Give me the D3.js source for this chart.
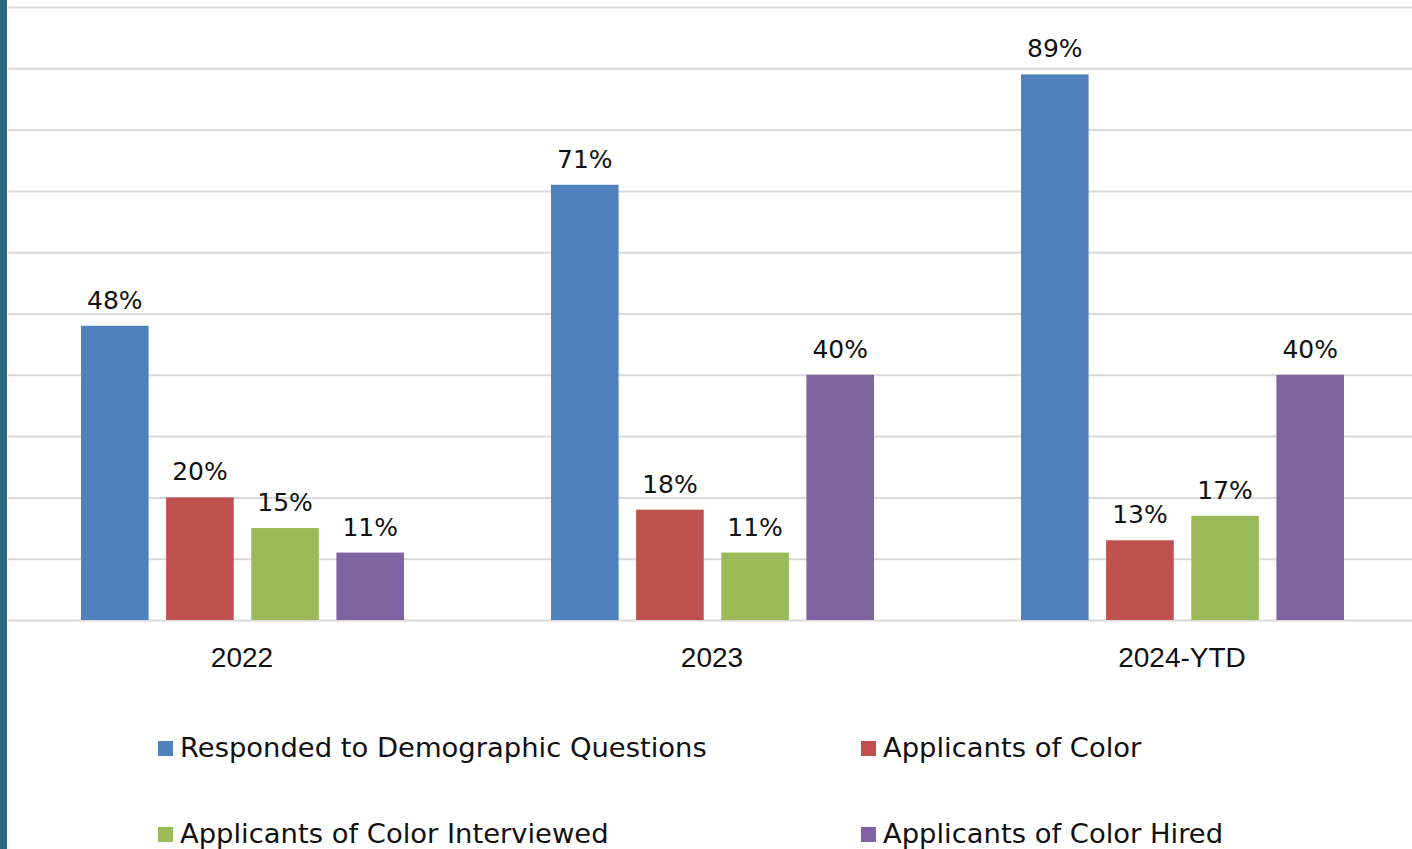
<!DOCTYPE html>
<html>
<head>
<meta charset="utf-8">
<script src="https://cdn.jsdelivr.net/npm/d3@7"></script>
<style>
  html, body { margin: 0; padding: 0; background: #fff; }
  svg { display: block; }
</style>
</head>
<body>
<svg id="chart" width="1412" height="849"></svg>
<script>
const categories = ["2022", "2023", "2024-YTD"];
const seriesNames = [
  "Responded to Demographic Questions",
  "Applicants of Color",
  "Applicants of Color Interviewed",
  "Applicants of Color Hired"
];
const responded  = [0.48, 0.71, 0.89];
const applicants = [0.20, 0.18, 0.13];
const interviewed = [0.15, 0.11, 0.17];
const hired      = [0.11, 0.40, 0.40];
const yTicks = [0, 0.1, 0.2, 0.3, 0.4, 0.5, 0.6, 0.7, 0.8, 0.9, 1.0];
const colors = ["#4F81BD", "#C0504D", "#9BBB59", "#8064A2"];

const seriesValues = [responded, applicants, interviewed, hired];

const svg = d3.select("#chart");
const W = 1412, H = 849;

const labelFont = "'DejaVu Sans', sans-serif";
const axisFont = "'Liberation Sans', Arial, sans-serif";

// left accent bar
svg.append("rect").attr("x", 0).attr("y", 0).attr("width", 7).attr("height", H).attr("fill", "#2A6A82");

const y = d3.scaleLinear().domain([0, 1]).range([620, 7]);
const x0 = d3.scaleBand().domain(categories).range([7, 1417]).paddingInner(0).paddingOuter(0);
const x1 = d3.scaleBand().domain(seriesNames).range([74, 397]).paddingInner(0.206).paddingOuter(0);

// gridlines
const grid = svg.append("g").attr("transform", "translate(8,0)")
  .call(d3.axisLeft(y).tickValues(yTicks).tickSize(-1410).tickFormat(""));
grid.select(".domain").remove();
grid.selectAll(".tick line").attr("stroke", "#D9D9D9").attr("stroke-width", 2);

// bars
const groups = svg.append("g").selectAll("g")
  .data(categories)
  .join("g")
  .attr("transform", d => `translate(${x0(d)},0)`);

groups.each(function(cat, ci) {
  const g = d3.select(this);
  seriesNames.forEach((s, si) => {
    const v = seriesValues[si][ci];
    g.append("rect")
      .attr("x", x1(s))
      .attr("y", y(v))
      .attr("width", x1.bandwidth())
      .attr("height", y(0) - y(v))
      .attr("fill", colors[si]);
    g.append("text")
      .attr("x", x1(s) + x1.bandwidth() / 2)
      .attr("y", y(v) - 17)
      .attr("text-anchor", "middle")
      .attr("font-family", labelFont)
      .attr("font-size", 25)
      .attr("fill", "#111")
      .text(Math.round(v * 100) + "%");
  });
});

// x axis labels
const xAxis = svg.append("g").attr("transform", "translate(0,620)")
  .call(d3.axisBottom(x0).tickSize(0).tickPadding(0));
xAxis.select(".domain").remove();
xAxis.selectAll("text")
  .attr("y", 47)
  .attr("dy", 0)
  .attr("font-family", axisFont)
  .attr("font-size", 28)
  .attr("fill", "#111");

// legend
const legendPos = [[158, 757], [861, 757], [158, 843], [861, 843]];
const legend = svg.append("g");
seriesNames.forEach((s, i) => {
  const [lx, ly] = legendPos[i];
  legend.append("rect").attr("x", lx).attr("y", ly - 16).attr("width", 15).attr("height", 15).attr("fill", colors[i]);
  legend.append("text").attr("x", lx + 22).attr("y", ly)
    .attr("font-family", labelFont).attr("font-size", 27.4).attr("fill", "#111").text(s);
});
</script>
</body>
</html>
